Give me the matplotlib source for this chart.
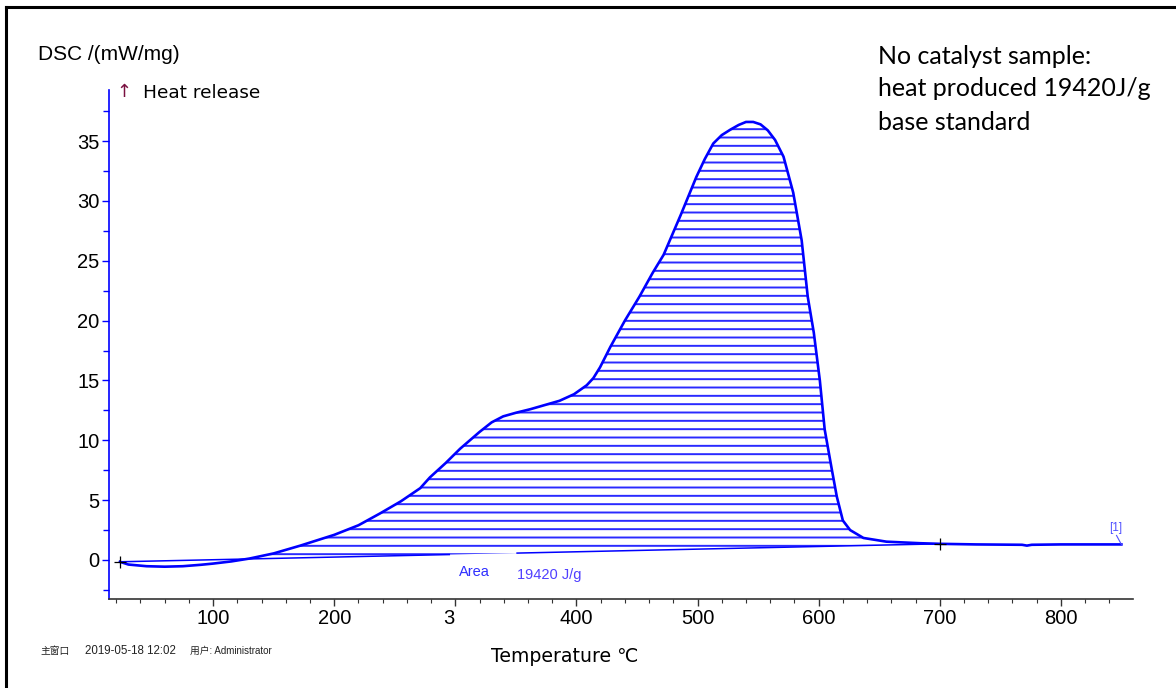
import numpy as np
import matplotlib
matplotlib.use("Agg")
import matplotlib.pyplot as plt
from matplotlib.lines import Line2D

# ---- data ----
temp = [23, 30, 45, 60, 75, 90, 100, 115, 130, 150, 172, 200, 220, 238, 255, 271,
        279, 292, 304, 312, 320, 330, 339.5, 350, 362, 374, 386, 398, 408.5, 414,
        419.5, 428, 440, 452, 463, 472, 486, 499, 506, 513, 520, 527, 534, 540, 546,
        552, 558, 564, 571, 579, 586, 591, 596, 601, 605, 611, 615, 620, 626, 637,
        656, 684, 700, 730, 768, 772, 776, 800, 850]
dsc = [-0.15, -0.38, -0.52, -0.56, -0.52, -0.4, -0.3, -0.12, 0.12, 0.55, 1.2, 2.1,
       2.9, 3.9, 4.9, 6.0, 6.9, 8.1, 9.3, 10.0, 10.7, 11.5, 12.0, 12.3, 12.6, 12.95,
       13.3, 13.85, 14.6, 15.2, 16.1, 17.8, 20.0, 22.0, 24.0, 25.5, 28.8, 32.0, 33.5,
       34.8, 35.5, 35.95, 36.35, 36.6, 36.6, 36.4, 35.9, 35.1, 33.7, 30.7, 26.7, 22.0,
       19.0, 15.0, 10.9, 7.5, 5.3, 3.3, 2.5, 1.84, 1.53, 1.4, 1.35, 1.3, 1.27, 1.2,
       1.27, 1.3, 1.3]
base_T = [23, 700]
base_y = [-0.15, 1.35]
base_gap = [295, 351]
area_label = "Area"
area_value = "19420 J/g"
x_ticks = [100, 200, 300, 400, 500, 600, 700, 800]
x_ticklabels = ["100", "200", "3  ", "400", "500", "600", "700", "800"]
y_ticks = [0, 5, 10, 15, 20, 25, 30, 35]
note_lines = ["No catalyst sample:", "heat produced 19420J/g", "base standard"]

plt.rcParams['font.family'] = ['Liberation Sans', 'DejaVu Sans']
plt.rcParams['hatch.linewidth'] = 1.4

fig = plt.figure(figsize=(11.76, 6.88), dpi=100)
ax = fig.add_axes([109/1176, 1-599/688, (1133-109)/1176, (599-90)/688])

T = np.array(temp, dtype=float)
Y = np.array(dsc, dtype=float)
B = np.interp(T, base_T, base_y)

# hatched area between curve and baseline
mask = T <= base_T[1]
ax.fill_between(T[mask], B[mask], Y[mask], where=Y[mask] >= B[mask], interpolate=True,
                facecolor='none', edgecolor='#2a2aff', hatch='--', linewidth=0)

# baseline with gap
b1 = [base_T[0], base_gap[0]]
b2 = [base_gap[1], base_T[1]]
ax.plot(b1, np.interp(b1, base_T, base_y), color='#0000ff', lw=1.1)
ax.plot(b2, np.interp(b2, base_T, base_y), color='#0000ff', lw=1.1)

# main curve
ax.plot(T, Y, color='#0000ff', lw=1.9, solid_joinstyle='round')

# integration limits markers
ax.plot(base_T, base_y, linestyle='none', marker='+', color='black', ms=9, mew=0.9)

ax.text(316, -1.0, area_label, color='#2f2fff', fontsize=10.5, ha='center', va='center')
ax.text(351, -1.25, area_value, color='#5040ff', fontsize=10.5, ha='left', va='center')
ax.text(845, 2.7, "[1]", color='#5050ff', fontsize=8.5, ha='center', va='center')
ax.plot([846, 850], [2.05, 1.3], color='#5050ff', lw=0.8)

ax.set_xlim(14.0, 859.6)
ax.set_ylim(-3.26, 39.27)

for s in ['top', 'right']:
    ax.spines[s].set_visible(False)
ax.spines['left'].set_color('#0000ff')
ax.spines['left'].set_linewidth(1.2)
ax.spines['bottom'].set_color('#333333')
ax.spines['bottom'].set_linewidth(1.2)

ax.set_xticks(x_ticks)
ax.set_xticklabels(x_ticklabels)
ax.set_xticks(np.arange(20, 860, 20), minor=True)
ax.set_yticks(y_ticks)
ax.set_yticks(np.arange(-2.5, 39, 5), minor=True)
ax.tick_params(axis='x', which='major', length=5, width=1, color='#333333',
               labelsize=14.5, pad=2.5)
ax.tick_params(axis='x', which='minor', length=3, width=0.8, color='#333333')
ax.tick_params(axis='y', which='major', length=5, width=1, color='#0000ff',
               labelsize=14.5, pad=2)
ax.tick_params(axis='y', which='minor', length=4, width=1, color='#0000ff')

# texts in figure coordinates
fig.text(38/1176, 1-55/688, "DSC /(mW/mg)", fontsize=15, ha='left', va='center')
fig.text(116/1176, 1-92/688, "↑", fontsize=13, color='#7a1040', ha='left', va='center',
         family='DejaVu Sans')
fig.text(143/1176, 1-93/688, "Heat release", fontsize=13.3, ha='left', va='center',
         family='DejaVu Sans')
fig.text(565/1176, 1-657/688, "Temperature ℃", fontsize=13.6, ha='center', va='center',
         family='DejaVu Sans')
fig.text(40/1176, 1-651/688, "主窗口", fontsize=7, ha='left', va='center',
         color='#222222', family=['Noto Sans CJK SC'])
fig.text(85/1176, 1-651/688, "2019-05-18 12:02", fontsize=8.3, ha='left', va='center',
         color='#222222')
fig.text(190/1176, 1-651/688, "用户: Administrator", fontsize=7.0, ha='left',
         va='center', color='#222222', family=['Liberation Sans', 'Noto Sans CJK SC'])
for i, line in enumerate(note_lines):
    fig.text(878/1176, 1-(56+33*i)/688, line, fontsize=18, ha='left', va='center',
             family='Lato')

# frame lines (left & top)
fig.add_artist(Line2D([6/1176, 6/1176], [0, 1-7/688], color='black', lw=2.2,
                      transform=fig.transFigure))
fig.add_artist(Line2D([6/1176, 1], [1-7/688, 1-7/688], color='black', lw=2.2,
                      transform=fig.transFigure))

fig.savefig("out.png", dpi=100)
